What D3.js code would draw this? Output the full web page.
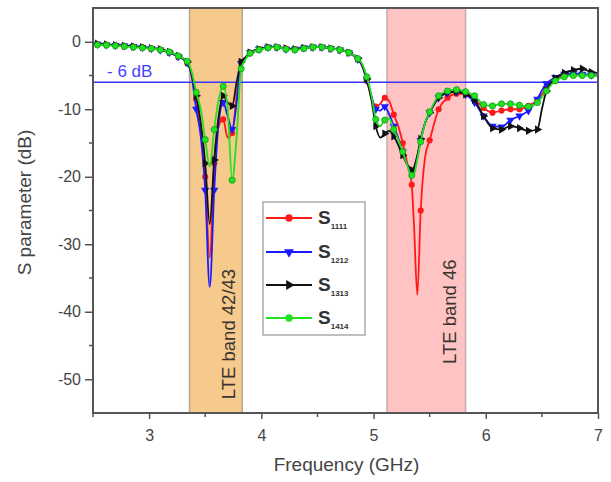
<!DOCTYPE html>
<html><head><meta charset="utf-8">
<script src="https://cdn.jsdelivr.net/npm/d3@7"></script>
<style>body{margin:0;background:#fff;} text{font-family:"Liberation Sans",Arial,sans-serif;}</style>
</head><body><svg id="c" width="611" height="482"></svg>
<script>
const freq = [2.50,2.54,2.62,2.70,2.78,2.86,2.94,3.02,3.10,3.18,
  3.26,3.34,3.38,3.42,3.46,3.50,3.54,3.58,3.62,3.66,
  3.70,3.74,3.78,3.82,3.86,3.90,3.98,4.06,4.14,4.22,
  4.30,4.38,4.46,4.54,4.62,4.70,4.78,4.86,4.90,4.94,
  4.98,5.02,5.06,5.10,5.14,5.18,5.22,5.26,5.30,5.34,
  5.36,5.39,5.42,5.46,5.50,5.58,5.66,5.74,5.82,5.90,
  5.98,6.06,6.14,6.22,6.30,6.38,6.46,6.50,6.54,6.62,
  6.70,6.78,6.86,6.94,7.00];
const s1111 = [-0.3,-0.35,-0.45,-0.5,-0.6,-0.7,-0.8,-1.0,-1.2,-1.6,
  -2.2,-3.1,-5.0,-8.5,-13.0,-20.0,-32.0,-18.0,-12.5,-11.5,
  -14.2,-13.5,-8.0,-3.0,-2.3,-1.6,-1.1,-0.8,-0.8,-1.0,
  -1.1,-0.9,-0.8,-0.8,-1.0,-1.2,-1.6,-2.6,-3.6,-5.8,
  -8.2,-9.6,-9.2,-8.3,-8.8,-10.8,-12.5,-15.0,-18.0,-21.2,
  -27.0,-37.5,-25.0,-17.0,-14.6,-10.0,-8.3,-7.7,-7.7,-8.5,
  -9.8,-10.5,-10.2,-10.0,-10.0,-9.5,-8.6,-7.8,-6.8,-5.6,
  -5.0,-4.8,-4.9,-5.0,-5.0];
const s1212 = [-0.3,-0.35,-0.45,-0.55,-0.6,-0.7,-0.85,-1.0,-1.2,-1.6,
  -2.2,-3.1,-5.2,-10.0,-14.0,-22.0,-36.3,-22.0,-12.0,-9.0,
  -11.0,-13.0,-9.0,-3.2,-2.4,-1.6,-1.1,-0.8,-0.8,-1.1,
  -1.1,-0.9,-0.8,-0.8,-1.0,-1.2,-1.6,-2.6,-3.6,-5.7,
  -8.0,-10.0,-10.2,-9.6,-10.8,-12.5,-14.3,-16.3,-18.2,-19.3,
  -19.2,-17.2,-14.6,-12.0,-10.5,-8.3,-7.6,-7.4,-7.8,-9.0,
  -11.0,-12.5,-12.6,-11.6,-11.0,-10.2,-8.5,-7.2,-6.2,-5.3,
  -4.8,-4.7,-4.8,-4.9,-5.0];
const s1313 = [-0.3,-0.3,-0.4,-0.5,-0.6,-0.7,-0.8,-0.95,-1.1,-1.5,
  -2.1,-3.0,-4.8,-8.0,-12.0,-18.0,-27.0,-17.5,-11.0,-8.0,
  -9.0,-9.5,-6.0,-3.0,-2.3,-1.6,-1.1,-0.8,-0.8,-1.0,
  -1.1,-0.9,-0.8,-0.8,-1.0,-1.2,-1.6,-2.5,-3.5,-5.5,
  -8.5,-12.5,-14.2,-13.6,-13.2,-14.0,-15.3,-16.8,-18.2,-19.0,
  -18.6,-16.8,-14.4,-12.0,-10.5,-8.3,-7.5,-7.4,-7.8,-8.6,
  -11.0,-12.8,-13.0,-12.5,-12.8,-13.2,-13.0,-10.0,-7.3,-5.4,
  -4.6,-4.2,-4.0,-4.5,-4.6];
const s1414 = [-0.4,-0.45,-0.5,-0.6,-0.7,-0.8,-0.9,-1.0,-1.2,-1.5,
  -2.1,-2.9,-4.5,-7.5,-10.0,-14.5,-18.5,-13.0,-8.5,-6.6,
  -10.0,-20.5,-14.0,-4.0,-2.6,-1.7,-1.2,-0.9,-0.8,-1.1,
  -1.2,-1.0,-0.8,-0.8,-1.0,-1.2,-1.6,-2.5,-3.3,-5.2,
  -7.8,-11.5,-12.5,-11.6,-11.4,-13.0,-14.5,-16.3,-18.3,-19.8,
  -19.6,-17.4,-14.8,-12.0,-10.4,-8.0,-7.3,-7.1,-7.4,-8.0,
  -9.3,-9.5,-9.2,-9.2,-9.4,-9.6,-9.0,-8.2,-7.3,-5.8,
  -5.2,-5.0,-5.0,-5.0,-5.0];
const seriesIds = ["1111","1212","1313","1414"];
const seriesColors = ["#ff1a1a","#1a1aff","#111111","#22e022"];
const xTicks = [3,4,5,6,7];
const yTicks = [0,-10,-20,-30,-40,-50];
const bandFrom = [3.36,5.12];
const bandTo = [3.83,5.82];
const bandLabels = ["LTE band 42/43","LTE band 46"];
const refLevel = -6;
const refLabel = "- 6 dB";

const svg = d3.select("#c");
const L=93,R=598,T=8,B=413;
const x = d3.scaleLinear().domain([2.5,7]).range([L,R]);
const y = d3.scaleLinear().domain([-55,5]).range([B,T]);

// bands
const bandFill = ["#f6c98c","#ffc3c3"];
const bandStroke = ["#b8a88a","#c9a9a9"];
bandFrom.forEach((f,i)=>{
  svg.append("rect").attr("x",x(f)).attr("y",T).attr("width",x(bandTo[i])-x(f)).attr("height",B-T)
    .attr("fill",bandFill[i]).attr("stroke",bandStroke[i]).attr("stroke-width",1.5);
});
// band labels
const labPos = [[3.71,-43.3],[5.68,-40]];
bandLabels.forEach((t,i)=>{
  svg.append("text").attr("transform",`translate(${x(labPos[i][0])},${y(labPos[i][1])}) rotate(-90)`)
    .attr("text-anchor","middle").attr("dominant-baseline","central")
    .attr("font-size",18.5).attr("fill","#3a3530").text(t);
});

// ref line
svg.append("line").attr("x1",L).attr("x2",R).attr("y1",y(refLevel)).attr("y2",y(refLevel))
  .attr("stroke","#3535ff").attr("stroke-width",1.6);
svg.append("text").attr("x",107).attr("y",y(refLevel)-5).attr("font-size",17).attr("fill","#4444ff").text(refLabel);

// series
const allSeries = [s1111,s1212,s1313,s1414];
const line = d3.line().x(d=>x(d[0])).y(d=>y(d[1])).curve(d3.curveMonotoneX);
const sym = [
  {t:d3.symbolCircle,s:30,r:0},
  {t:d3.symbolTriangle,s:30,r:180},
  {t:d3.symbolTriangle,s:30,r:90},
  {t:d3.symbolCircle,s:30,r:0}
];
const onGrid = f => { const k=(f-2.54)/0.08; return Math.abs(k-Math.round(k))<0.01; };
allSeries.forEach((vals,i)=>{
  const pts = freq.map((f,j)=>[f,vals[j]]);
  svg.append("path").datum(pts).attr("d",line).attr("fill","none")
    .attr("stroke",seriesColors[i]).attr("stroke-width",1.8);
  const g = svg.append("g");
  g.selectAll("path").data(pts.filter(p=>onGrid(p[0]))).join("path")
    .attr("d",d3.symbol().type(sym[i].t).size(sym[i].s))
    .attr("transform",p=>`translate(${x(p[0])},${y(p[1])}) rotate(${sym[i].r})`)
    .attr("fill",seriesColors[i]).attr("stroke", i===3?"#139a13":"none").attr("stroke-width",0.8);
});

// axes
const axCol="#555";
const xa = svg.append("g").attr("transform",`translate(0,${B})`)
  .call(d3.axisBottom(x).tickValues(xTicks).tickSize(6).tickFormat(d3.format("d")));
const ya = svg.append("g").attr("transform",`translate(${L},0)`)
  .call(d3.axisLeft(y).tickValues(yTicks).tickSize(8).tickFormat(d=>String(d)));
[xa,ya].forEach(a=>{
  a.select(".domain").remove();
  a.selectAll("line").attr("stroke",axCol).attr("stroke-width",1.5);
  a.selectAll("text").attr("font-size",16).attr("fill","#444")
    .attr("font-family","'Liberation Sans',Arial,sans-serif");
});
xa.selectAll("text").attr("dy","1.2em");
ya.selectAll("text").attr("dx","-1px");
// minor ticks
const xMinor=[2.5,3.5,4.5,5.5,6.5];
const yMinor=[-5,-15,-25,-35,-45];
svg.append("g").selectAll("line").data(xMinor).join("line")
  .attr("x1",d=>x(d)).attr("x2",d=>x(d)).attr("y1",B).attr("y2",B+4).attr("stroke",axCol).attr("stroke-width",1.5);
svg.append("g").selectAll("line").data(yMinor).join("line")
  .attr("y1",d=>y(d)).attr("y2",d=>y(d)).attr("x1",L).attr("x2",L-4).attr("stroke",axCol).attr("stroke-width",1.5);
// frame
svg.append("rect").attr("x",L).attr("y",T).attr("width",R-L).attr("height",B-T)
  .attr("fill","none").attr("stroke",axCol).attr("stroke-width",2);

// axis titles
svg.append("text").attr("x",(L+R)/2+1).attr("y",471).attr("text-anchor","middle")
  .attr("font-size",19).attr("fill","#444").text("Frequency (GHz)");
svg.append("text").attr("transform",`translate(31,${(T+B)/2-8}) rotate(-90)`).attr("text-anchor","middle")
  .attr("font-size",19).attr("fill","#444").text("S parameter (dB)");

// legend
const lg = svg.append("g");
lg.append("rect").attr("x",263).attr("y",202).attr("width",102).attr("height",133)
  .attr("fill","#fff").attr("stroke","#aaa").attr("stroke-width",1.5);
const rowY=[218,252,285,318];
seriesIds.forEach((id,i)=>{
  lg.append("line").attr("x1",266).attr("x2",312).attr("y1",rowY[i]).attr("y2",rowY[i])
    .attr("stroke",seriesColors[i]).attr("stroke-width",2);
  lg.append("path").attr("d",d3.symbol().type(sym[i].t).size(sym[i].s*1.4)())
    .attr("transform",`translate(289,${rowY[i]}) rotate(${sym[i].r})`).attr("fill",seriesColors[i]);
  const t = lg.append("text").attr("x",318).attr("y",rowY[i]+6).attr("fill","#333");
  t.append("tspan").attr("font-size",19).attr("font-weight","bold").text("S");
  t.append("tspan").attr("font-size",8).attr("font-weight","bold").attr("dy",5).text(id);
});
</script></body></html>
